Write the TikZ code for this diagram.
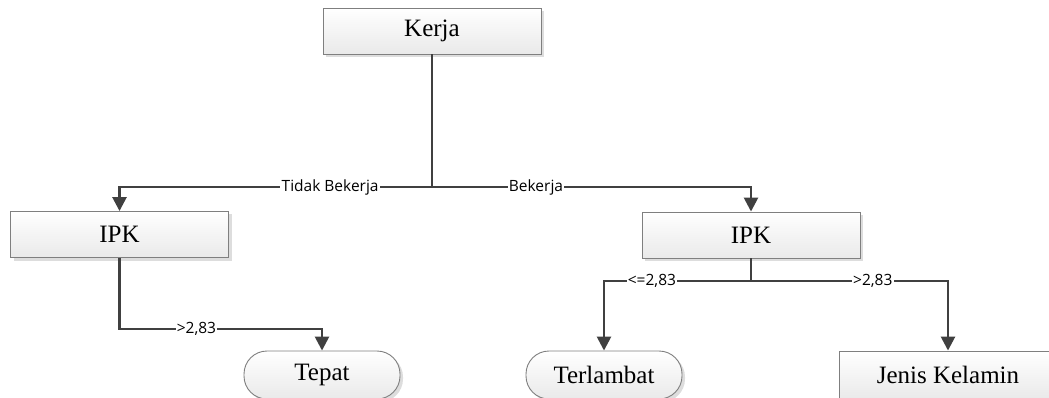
\documentclass[tikz,border=0pt]{standalone}
\usepackage{fontspec}
\newfontfamily\boxfont{Liberation Serif}
\newfontfamily\lblfont{Open Sans}
\usetikzlibrary{arrows.meta,shadows}
\definecolor{linegray}{HTML}{404040}
\definecolor{edgegray}{HTML}{7F7F7F}
\begin{document}
\begin{tikzpicture}[x=1pt,y=-1pt,
  box/.style={draw=edgegray, line width=0.9pt, top color=white, bottom color=gray!17,
    minimum width=218pt, minimum height=46pt, inner sep=0pt,
    font=\boxfont\fontsize{25}{28}\selectfont,
    drop shadow={shadow xshift=3pt, shadow yshift=-3pt, fill=gray!45, opacity=0.6}},
  leaf/.style={box, minimum width=156pt, minimum height=48pt, rounded corners=23pt},
  conn/.style={draw=linegray, line width=2.6pt},
  arr/.style={conn, -{Triangle[length=14pt,width=14pt]}},
  lbl/.style={fill=white, inner sep=1.2pt, text=black, font=\lblfont\fontsize{15.5}{17}\selectfont}]
\useasboundingbox (0,0) rectangle (1049,398);

% decision nodes
\node[box] (kerja) at (432,31) {Kerja};
\node[box] (ipk1) at (119.5,234.5) {IPK};
\node[box] (ipk2) at (751,235) {IPK};

% outcome nodes
\node[leaf] (tepat) at (322,375) {Tepat};
\node[leaf] (terlambat) at (604,375) {Terlambat};
\node[box, minimum height=48pt] (jenis) at (948,375) {Jenis Kelamin};

% branch points
\coordinate (fork1) at (432,187);
\coordinate (fork2) at (751,281);
\coordinate (bend1) at (119.5,329);

% Kerja splits
\draw[conn] (kerja.south) -- (fork1);
\draw[arr] (fork1) -| node[lbl, pos=0.163] {Tidak Bekerja} (ipk1.north);
\draw[arr] (fork1) -| node[lbl, pos=0.163] {Bekerja} (ipk2.north);

% IPK (tidak bekerja)
\draw[arr] (ipk1.south) -- (bend1) -| node[lbl, pos=0.19] {>2,83} (tepat.north);

% IPK (bekerja)
\draw[conn] (ipk2.south) -- (fork2);
\draw[arr] (fork2) -| node[lbl, pos=0.337] {<=2,83} (terlambat.north);
\draw[arr] (fork2) -| node[lbl, pos=0.309] {>2,83} (jenis.north);
\end{tikzpicture}
\end{document}
